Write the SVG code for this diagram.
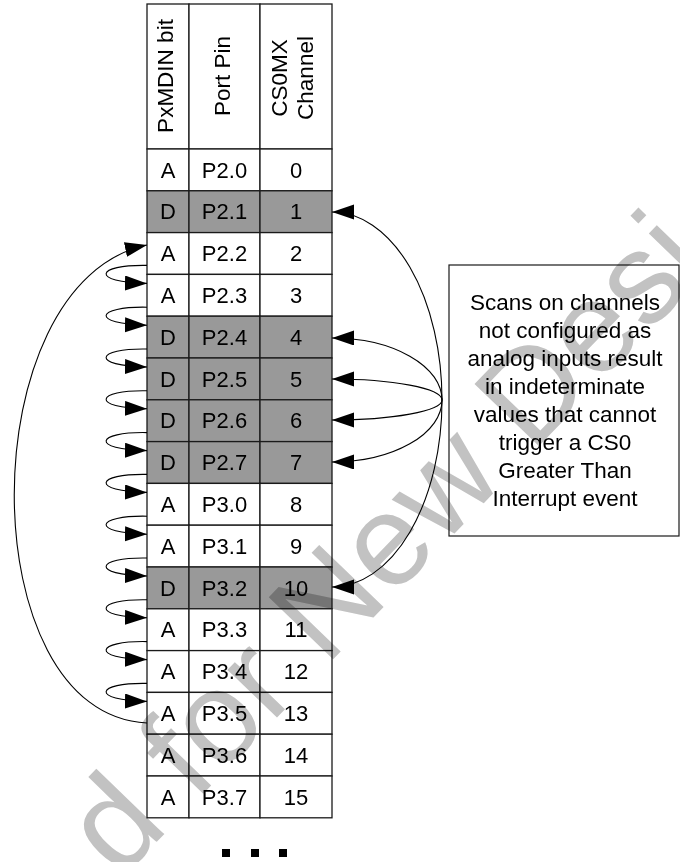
<svg xmlns="http://www.w3.org/2000/svg" width="680" height="862" viewBox="0 0 680 862">
<style>
.c{fill:#fff;stroke:#1a1a1a;stroke-width:1.3}
.g{fill:#999;stroke:#1a1a1a;stroke-width:1.3}
.t{font-family:"Liberation Sans",Arial,sans-serif;font-size:22px;fill:#000;text-anchor:middle}
.h{font-size:22.5px}
.n{font-size:22.5px}
.box{fill:#fff;stroke:#1a1a1a;stroke-width:1.2}
.cn{fill:none;stroke:#000;stroke-width:1.1;marker-end:url(#ah)}
.wm{font-family:"Liberation Sans",Arial,sans-serif;font-size:130px;fill:#c2c2c2;mix-blend-mode:multiply}
</style>
<defs>
<marker id="ah" markerUnits="userSpaceOnUse" markerWidth="24" markerHeight="17" refX="22" refY="7.5" orient="auto"><path d="M0,0 L22,7.5 L0,15 z" fill="#000"/></marker>
</defs>
<rect width="680" height="862" fill="#fff"/>
<g id="header">
<rect class="c" x="147" y="4" width="42" height="145"/>
<rect class="c" x="189" y="4" width="71" height="145"/>
<rect class="c" x="260" y="4" width="72" height="145"/>
<text class="t h" transform="translate(173,76) rotate(-90)">PxMDIN bit</text>
<text class="t h" transform="translate(230,76) rotate(-90)">Port Pin</text>
<text class="t h" transform="translate(287,78) rotate(-90)">CS0MX</text>
<text class="t h" transform="translate(313,78) rotate(-90)">Channel</text>
</g>
<g id="row0"><rect class="c" x="147" y="149" width="42" height="41.8"/><rect class="c" x="189" y="149" width="71" height="41.8"/><rect class="c" x="260" y="149" width="72" height="41.8"/><text class="t" x="168" y="177.5">A</text><text class="t" x="224.5" y="177.5">P2.0</text><text class="t" x="296" y="177.5">0</text></g>
<g id="row1"><rect class="g" x="147" y="190.8" width="42" height="41.8"/><rect class="g" x="189" y="190.8" width="71" height="41.8"/><rect class="g" x="260" y="190.8" width="72" height="41.8"/><text class="t" x="168" y="219.3">D</text><text class="t" x="224.5" y="219.3">P2.1</text><text class="t" x="296" y="219.3">1</text></g>
<g id="row2"><rect class="c" x="147" y="232.6" width="42" height="41.8"/><rect class="c" x="189" y="232.6" width="71" height="41.8"/><rect class="c" x="260" y="232.6" width="72" height="41.8"/><text class="t" x="168" y="261.1">A</text><text class="t" x="224.5" y="261.1">P2.2</text><text class="t" x="296" y="261.1">2</text></g>
<g id="row3"><rect class="c" x="147" y="274.4" width="42" height="41.8"/><rect class="c" x="189" y="274.4" width="71" height="41.8"/><rect class="c" x="260" y="274.4" width="72" height="41.8"/><text class="t" x="168" y="302.9">A</text><text class="t" x="224.5" y="302.9">P2.3</text><text class="t" x="296" y="302.9">3</text></g>
<g id="row4"><rect class="g" x="147" y="316.2" width="42" height="41.8"/><rect class="g" x="189" y="316.2" width="71" height="41.8"/><rect class="g" x="260" y="316.2" width="72" height="41.8"/><text class="t" x="168" y="344.7">D</text><text class="t" x="224.5" y="344.7">P2.4</text><text class="t" x="296" y="344.7">4</text></g>
<g id="row5"><rect class="g" x="147" y="358" width="42" height="41.8"/><rect class="g" x="189" y="358" width="71" height="41.8"/><rect class="g" x="260" y="358" width="72" height="41.8"/><text class="t" x="168" y="386.5">D</text><text class="t" x="224.5" y="386.5">P2.5</text><text class="t" x="296" y="386.5">5</text></g>
<g id="row6"><rect class="g" x="147" y="399.8" width="42" height="41.8"/><rect class="g" x="189" y="399.8" width="71" height="41.8"/><rect class="g" x="260" y="399.8" width="72" height="41.8"/><text class="t" x="168" y="428.3">D</text><text class="t" x="224.5" y="428.3">P2.6</text><text class="t" x="296" y="428.3">6</text></g>
<g id="row7"><rect class="g" x="147" y="441.6" width="42" height="41.8"/><rect class="g" x="189" y="441.6" width="71" height="41.8"/><rect class="g" x="260" y="441.6" width="72" height="41.8"/><text class="t" x="168" y="470.1">D</text><text class="t" x="224.5" y="470.1">P2.7</text><text class="t" x="296" y="470.1">7</text></g>
<g id="row8"><rect class="c" x="147" y="483.4" width="42" height="41.8"/><rect class="c" x="189" y="483.4" width="71" height="41.8"/><rect class="c" x="260" y="483.4" width="72" height="41.8"/><text class="t" x="168" y="511.9">A</text><text class="t" x="224.5" y="511.9">P3.0</text><text class="t" x="296" y="511.9">8</text></g>
<g id="row9"><rect class="c" x="147" y="525.2" width="42" height="41.8"/><rect class="c" x="189" y="525.2" width="71" height="41.8"/><rect class="c" x="260" y="525.2" width="72" height="41.8"/><text class="t" x="168" y="553.7">A</text><text class="t" x="224.5" y="553.7">P3.1</text><text class="t" x="296" y="553.7">9</text></g>
<g id="row10"><rect class="g" x="147" y="567" width="42" height="41.8"/><rect class="g" x="189" y="567" width="71" height="41.8"/><rect class="g" x="260" y="567" width="72" height="41.8"/><text class="t" x="168" y="595.5">D</text><text class="t" x="224.5" y="595.5">P3.2</text><text class="t" x="296" y="595.5">10</text></g>
<g id="row11"><rect class="c" x="147" y="608.8" width="42" height="41.8"/><rect class="c" x="189" y="608.8" width="71" height="41.8"/><rect class="c" x="260" y="608.8" width="72" height="41.8"/><text class="t" x="168" y="637.3">A</text><text class="t" x="224.5" y="637.3">P3.3</text><text class="t" x="296" y="637.3">11</text></g>
<g id="row12"><rect class="c" x="147" y="650.6" width="42" height="41.8"/><rect class="c" x="189" y="650.6" width="71" height="41.8"/><rect class="c" x="260" y="650.6" width="72" height="41.8"/><text class="t" x="168" y="679.1">A</text><text class="t" x="224.5" y="679.1">P3.4</text><text class="t" x="296" y="679.1">12</text></g>
<g id="row13"><rect class="c" x="147" y="692.4" width="42" height="41.8"/><rect class="c" x="189" y="692.4" width="71" height="41.8"/><rect class="c" x="260" y="692.4" width="72" height="41.8"/><text class="t" x="168" y="720.9">A</text><text class="t" x="224.5" y="720.9">P3.5</text><text class="t" x="296" y="720.9">13</text></g>
<g id="row14"><rect class="c" x="147" y="734.2" width="42" height="41.8"/><rect class="c" x="189" y="734.2" width="71" height="41.8"/><rect class="c" x="260" y="734.2" width="72" height="41.8"/><text class="t" x="168" y="762.7">A</text><text class="t" x="224.5" y="762.7">P3.6</text><text class="t" x="296" y="762.7">14</text></g>
<g id="row15"><rect class="c" x="147" y="776" width="42" height="41.8"/><rect class="c" x="189" y="776" width="71" height="41.8"/><rect class="c" x="260" y="776" width="72" height="41.8"/><text class="t" x="168" y="804.5">A</text><text class="t" x="224.5" y="804.5">P3.7</text><text class="t" x="296" y="804.5">15</text></g>
<g id="ellipsis" fill="#000">
<rect x="222" y="849" width="8" height="8"/><rect x="251" y="849" width="8" height="8"/><rect x="279" y="849" width="8" height="8"/>
</g>
<g id="note">
<rect class="box" x="449" y="265" width="230" height="271"/>
<text class="t n"><tspan x="565" y="309.5">Scans on channels</tspan><tspan x="565" y="337.5">not configured as</tspan><tspan x="565" y="365.5">analog inputs result</tspan><tspan x="565" y="393.5">in indeterminate</tspan><tspan x="565" y="421.5">values that cannot</tspan><tspan x="565" y="449.5">trigger a CS0</tspan><tspan x="565" y="477.5">Greater Than</tspan><tspan x="565" y="505.5">Interrupt event</tspan></text>
</g>
<g id="connectors">
<path class="cn" d="M442,400 A110,188 0 0,0 332,212"/>
<path class="cn" d="M442,400 A110,62 0 0,0 332,338"/>
<path class="cn" d="M442,400 A110,21 0 0,0 332,379"/>
<path class="cn" d="M442,400 A110,20 0 0,1 332,420"/>
<path class="cn" d="M442,400 A110,62 0 0,1 332,462"/>
<path class="cn" d="M442,400 A110,187 0 0,1 332,587"/>
<path class="cn" d="M147,723 C-30,715 -30,282 147,245"/>
<path class="cn" d="M147,265.4 C95,264.4 90,282.4 147,283.4"/>
<path class="cn" d="M147,307.2 C95,306.2 90,324.2 147,325.2"/>
<path class="cn" d="M147,349 C95,348 90,366 147,367"/>
<path class="cn" d="M147,390.8 C95,389.8 90,407.8 147,408.8"/>
<path class="cn" d="M147,432.6 C95,431.6 90,449.6 147,450.6"/>
<path class="cn" d="M147,474.4 C95,473.4 90,491.4 147,492.4"/>
<path class="cn" d="M147,516.2 C95,515.2 90,533.2 147,534.2"/>
<path class="cn" d="M147,558 C95,557 90,575 147,576"/>
<path class="cn" d="M147,599.8 C95,598.8 90,616.8 147,617.8"/>
<path class="cn" d="M147,641.6 C95,640.6 90,658.6 147,659.6"/>
<path class="cn" d="M147,683.4 C95,682.4 90,700.4 147,701.4"/>
</g>
<g id="watermark">
<text class="wm" transform="translate(120,880) rotate(-46)">d for New Desi</text>
</g>
</svg>
